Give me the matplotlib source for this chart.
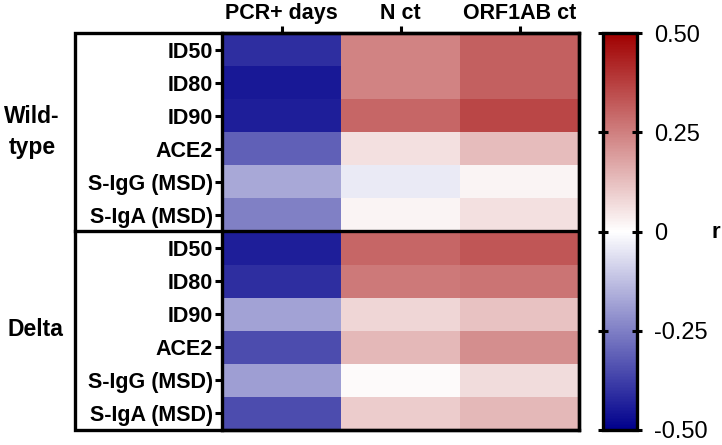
import matplotlib
matplotlib.use("Agg")
import matplotlib.pyplot as plt
import numpy as np
from matplotlib.colors import LinearSegmentedColormap
from matplotlib.lines import Line2D
from matplotlib.patches import Rectangle

plt.rcParams['font.family'] = ['Liberation Sans', 'DejaVu Sans']

columns = ["PCR+ days", "N ct", "ORF1AB ct"]
rows = ["ID50", "ID80", "ID90", "ACE2", "S-IgG (MSD)", "S-IgA (MSD)"]
groups = ["Wild-\ntype", "Delta"]

wild_pcr = [-0.41, -0.45, -0.44, -0.31, -0.17, -0.25]
wild_n = [0.24, 0.24, 0.30, 0.06, -0.04, 0.02]
wild_orf = [0.31, 0.31, 0.36, 0.13, 0.02, 0.06]

delta_pcr = [-0.44, -0.41, -0.18, -0.35, -0.19, -0.35]
delta_n = [0.30, 0.26, 0.08, 0.14, 0.01, 0.10]
delta_orf = [0.33, 0.27, 0.12, 0.22, 0.07, 0.14]

cbar_ticks = [-0.5, -0.25, 0, 0.25, 0.5]
cbar_labels = ["-0.50", "-0.25", "0", "0.25", "0.50"]

data = np.array([wild_pcr + delta_pcr, wild_n + delta_n, wild_orf + delta_orf]).T
row_labels = rows + rows

cmap = LinearSegmentedColormap.from_list(
    "bwr_custom", [(0.0, (0/255, 0/255, 140/255)), (0.5, (1, 1, 1)), (1.0, (160/255, 0, 0))])

W, H = 722, 445
fig = plt.figure(figsize=(W/100, H/100), dpi=100)

def fx(x):
    return x / W

def fy(y):
    return 1 - y / H

left, right, top, bottom = 222, 579, 33, 430
ax = fig.add_axes([fx(left), fy(bottom), fx(right) - fx(left), fy(top) - fy(bottom)])
im = ax.imshow(data, cmap=cmap, vmin=-0.5, vmax=0.5, aspect='auto',
               extent=(0, 3, 12, 0), interpolation='nearest')
ax.set_xlim(0, 3)
ax.set_ylim(12, 0)
ax.xaxis.tick_top()
ax.set_xticks(np.arange(3) + 0.5)
ax.set_xticklabels(columns, fontsize=15.5, fontweight='bold')
ax.set_yticks(np.arange(12) + 0.5)
ax.set_yticklabels(row_labels, fontsize=15.5, fontweight='bold')
ax.tick_params(axis='both', length=5, width=2.2, pad=1.5)
for s in ax.spines.values():
    s.set_linewidth(2.4)
ax.axhline(6, color='black', lw=2.4)

# outer frame around labels
frame_left = 75
fig.add_artist(Rectangle((fx(frame_left), fy(bottom)), fx(right) - fx(frame_left),
                         fy(top) - fy(bottom), transform=fig.transFigure,
                         fill=False, edgecolor='black', lw=2.4, zorder=0.5))
fig.add_artist(Line2D([fx(frame_left), fx(left)], [fy((top + bottom) / 2)] * 2,
                      transform=fig.transFigure, color='black', lw=2.4))

# group labels
fig.text(fx(32), fy(132), groups[0], ha='center', va='center', fontsize=16.5,
         fontweight='bold', linespacing=1.45)
fig.text(fx(35), fy(330), groups[1], ha='center', va='center', fontsize=16.5,
         fontweight='bold')

# colorbar
cax = fig.add_axes([fx(603), fy(bottom), fx(637) - fx(603), fy(top) - fy(bottom)])
cb = fig.colorbar(im, cax=cax, ticks=cbar_ticks)
cb.ax.set_yticklabels(cbar_labels, fontsize=17)
cb.outline.set_linewidth(2.4)
cax.tick_params(axis='y', which='both', direction='inout', length=7, width=2.2,
                left=True, right=True, labelright=True, pad=9)
fig.text(fx(716), fy(232), "r", ha='center', va='center', fontsize=16, fontweight='bold')

fig.savefig("out.png", dpi=100)
